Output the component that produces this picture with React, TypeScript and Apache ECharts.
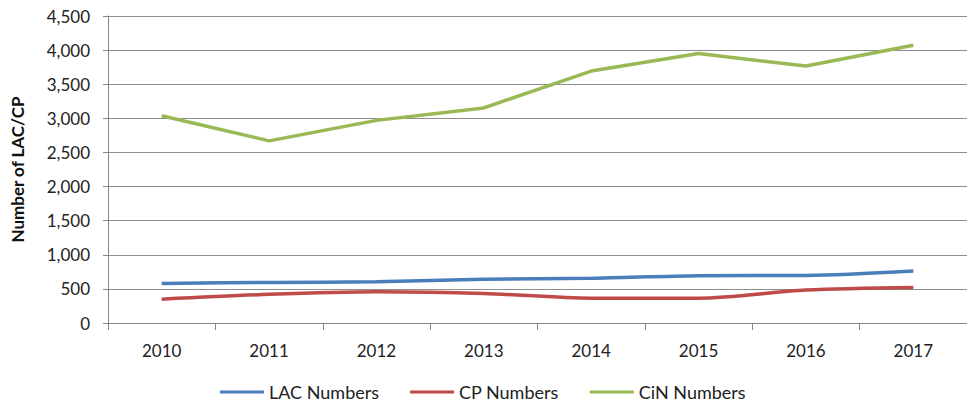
import React, { useEffect, useRef } from "react";
import * as echarts from "echarts";

const years = ["2010", "2011", "2012", "2013", "2014", "2015", "2016", "2017"];
const lacNumbers = [580, 595, 605, 640, 655, 693, 698, 763];
const cpNumbers = [349, 420, 457, 433, 364, 364, 483, 521];
const cinNumbers = [3039, 2670, 2970, 3153, 3693, 3949, 3767, 4072];

const FONT = "Lato, 'Open Sans', sans-serif";

export default function App() {
  const ref = useRef<HTMLDivElement>(null);
  useEffect(() => {
    if (!ref.current) return;
    const chart = echarts.init(ref.current, undefined, { renderer: "svg" });
    chart.setOption({
      animation: false,
      backgroundColor: "#ffffff",
      textStyle: { fontFamily: FONT },
      grid: { left: 108, top: 16, width: 872, height: 307, containLabel: false },
      legend: {
        left: 220,
        top: 382,
        padding: 0,
        icon: "rect",
        itemWidth: 44,
        itemHeight: 3,
        itemGap: 31,
        textStyle: { fontFamily: FONT, fontSize: 18, lineHeight: 20, color: "#222" },
        data: ["LAC Numbers", "CP Numbers", "CiN Numbers"],
      },
      xAxis: {
        type: "category",
        data: years,
        boundaryGap: true,
        axisLine: { lineStyle: { color: "#868686", width: 1 } },
        axisTick: { show: true, length: 7, lineStyle: { color: "#868686" } },
        axisLabel: { color: "#222", fontSize: 17, fontFamily: FONT, margin: 19 },
        splitLine: { show: false },
      },
      yAxis: {
        type: "value",
        min: 0,
        max: 4500,
        interval: 500,
        name: "Number of LAC/CP",
        nameLocation: "middle",
        nameGap: 82,
        nameTextStyle: { fontFamily: FONT, fontSize: 17, fontWeight: "bold", color: "#111" },
        axisLine: { show: true, lineStyle: { color: "#868686", width: 1 } },
        axisTick: { show: true, length: 5, lineStyle: { color: "#868686" } },
        axisLabel: {
          color: "#222",
          fontSize: 17,
          fontFamily: FONT,
          margin: 18,
          formatter: (v: number) => v.toLocaleString("en-US"),
        },
        splitLine: { show: true, lineStyle: { color: "#8c8c8c", width: 1 } },
      },
      series: [
        {
          name: "LAC Numbers",
          type: "line",
          data: lacNumbers,
          smooth: 0.3,
          symbol: "none",
          lineStyle: { color: "#4a7ebb", width: 3.5 },
          itemStyle: { color: "#4a7ebb" },
        },
        {
          name: "CP Numbers",
          type: "line",
          data: cpNumbers,
          smooth: 0.3,
          symbol: "none",
          lineStyle: { color: "#be4b48", width: 3.5 },
          itemStyle: { color: "#be4b48" },
        },
        {
          name: "CiN Numbers",
          type: "line",
          data: cinNumbers,
          symbol: "none",
          lineStyle: { color: "#98b954", width: 3.5 },
          itemStyle: { color: "#98b954" },
        },
      ],
    });
    return () => chart.dispose();
  }, []);
  return (
    <div
      ref={ref}
      style={{ position: "fixed", left: 0, top: 0, width: 967, height: 405, background: "#fff" }}
    />
  );
}
